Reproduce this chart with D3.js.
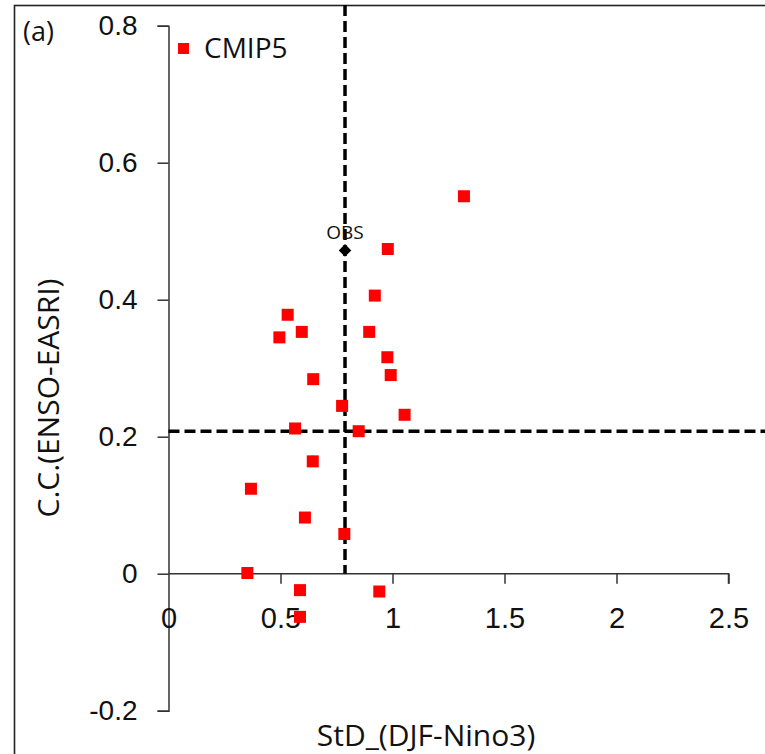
<!DOCTYPE html>
<html>
<head>
<meta charset="utf-8">
<script src="https://cdn.jsdelivr.net/npm/d3@7"></script>
<style>
  body { margin: 0; background: #fff; }
  svg { display: block; font-family: "Open Sans", sans-serif; }
  .axis path, .axis line { stroke: #333; stroke-width: 1.5; }
  .axis text { fill: #111; }
</style>
</head>
<body>
<div id="chart-area"></div>
<script>
// CMIP5 models: StD of DJF Nino3 and correlation ENSO-EASRI
var stdNino3 = [1.319, 0.979, 0.921, 0.532, 0.595, 0.495, 0.896, 0.977, 0.992, 0.646, 0.775,
                1.054, 0.565, 0.849, 0.644, 0.368, 0.609, 0.785, 0.352, 0.587, 0.941, 0.587];
var ccEnso   = [0.551, 0.474, 0.406, 0.378, 0.353, 0.345, 0.353, 0.316, 0.290, 0.284, 0.245,
                0.232, 0.212, 0.208, 0.164, 0.124, 0.082, 0.058, 0.001, -0.024, -0.026, -0.063];

// observation
var obsStd = [0.788];
var obsCC = [0.472];
var obsLabel = ["OBS"];

// dashed reference lines
var refLineX = [0.788];
var refLineY = [0.208];

var xTicks = [0, 0.5, 1, 1.5, 2, 2.5];
var yTicks = [-0.2, 0, 0.2, 0.4, 0.6, 0.8];

var width = 765, height = 754;

var svg = d3.select("#chart-area").append("svg")
    .attr("width", width)
    .attr("height", height);

// outer frame
svg.append("rect")
    .attr("x", 14.5).attr("y", 5.5)
    .attr("width", 800).attr("height", 800)
    .attr("fill", "none")
    .attr("stroke", "#222")
    .attr("stroke-width", 1.6);

var xScale = d3.scaleLinear().domain([0, 2.5]).range([168.5, 728.5]);
var yScale = d3.scaleLinear().domain([-0.2, 0.8]).range([710.7, 25.7]);

var fmt = function(d) { return d === 0 ? "0" : d3.format(".1f")(d).replace("−", "-"); };
var fmtX = function(d) { return d3.format("")(d); };

// y axis
var yAxis = d3.axisLeft(yScale).tickValues(yTicks).tickSize(11).tickPadding(20).tickFormat(fmt);
var gy = svg.append("g")
    .attr("class", "axis y-axis")
    .attr("transform", "translate(" + xScale(0) + ",0)")
    .call(yAxis);
gy.selectAll("text").style("font-size", "28px");

// x axis crossing at y = 0
var xAxis = d3.axisBottom(xScale).tickValues(xTicks).tickSize(10).tickFormat(fmtX);
var gx = svg.append("g")
    .attr("class", "axis x-axis")
    .attr("transform", "translate(0," + yScale(0) + ")")
    .call(xAxis);
gx.select(".domain").attr("d", "M" + xScale(0) + ",0H" + xScale(2.5) + "V10");
gx.selectAll(".tick").filter(function(d) { return d === 0; }).select("line").remove();
gx.selectAll("text")
    .attr("y", 54)
    .attr("dy", 0)
    .style("font-size", "29px");

// dashed lines
svg.selectAll(".vline").data(refLineX).enter().append("line")
    .attr("x1", function(d) { return xScale(d); })
    .attr("x2", function(d) { return xScale(d); })
    .attr("y1", 5)
    .attr("y2", yScale(0))
    .attr("stroke", "#000").attr("stroke-width", 3.5)
    .attr("stroke-dasharray", "11,5");

svg.selectAll(".hline").data(refLineY).enter().append("line")
    .attr("x1", xScale(0))
    .attr("x2", width)
    .attr("y1", function(d) { return yScale(d); })
    .attr("y2", function(d) { return yScale(d); })
    .attr("stroke", "#000").attr("stroke-width", 3.5)
    .attr("stroke-dasharray", "11,5");

// CMIP5 squares
var sq = 12;
svg.selectAll(".model").data(stdNino3).enter().append("rect")
    .attr("class", "model")
    .attr("x", function(d) { return xScale(d) - sq / 2; })
    .attr("y", function(d, i) { return yScale(ccEnso[i]) - sq / 2; })
    .attr("width", sq).attr("height", sq)
    .attr("fill", "#ff0000");

// OBS diamond + label
svg.selectAll(".obs").data(obsStd).enter().append("path")
    .attr("class", "obs")
    .attr("d", d3.symbol().type(d3.symbolDiamond2).size(100))
    .attr("transform", function(d, i) { return "translate(" + xScale(d) + "," + yScale(obsCC[i]) + ")"; })
    .attr("fill", "#000");

svg.selectAll(".obslabel").data(obsStd).enter().append("text")
    .attr("x", function(d) { return xScale(d); })
    .attr("y", function(d, i) { return yScale(obsCC[i]) - 11; })
    .attr("text-anchor", "middle")
    .style("font-size", "19px")
    .attr("fill", "#111")
    .text(function(d, i) { return obsLabel[i]; });

// legend
svg.append("rect")
    .attr("x", 178).attr("y", 43)
    .attr("width", 11).attr("height", 11)
    .attr("fill", "#ff0000");
svg.append("text")
    .attr("x", 204).attr("y", 58)
    .style("font-size", "28px")
    .attr("fill", "#111")
    .text("CMIP5");

// panel tag
svg.append("text")
    .attr("x", 23).attr("y", 41)
    .style("font-size", "27px")
    .attr("fill", "#111")
    .text("(a)");

// axis titles
svg.append("text")
    .attr("x", 426).attr("y", 746)
    .attr("text-anchor", "middle")
    .style("font-size", "30px")
    .attr("fill", "#111")
    .text("StD_(DJF-Nino3)");

svg.append("text")
    .attr("transform", "translate(59,398) rotate(-90)")
    .attr("text-anchor", "middle")
    .style("font-size", "30px")
    .attr("fill", "#111")
    .text("C.C.(ENSO-EASRI)");
</script>
</body>
</html>
